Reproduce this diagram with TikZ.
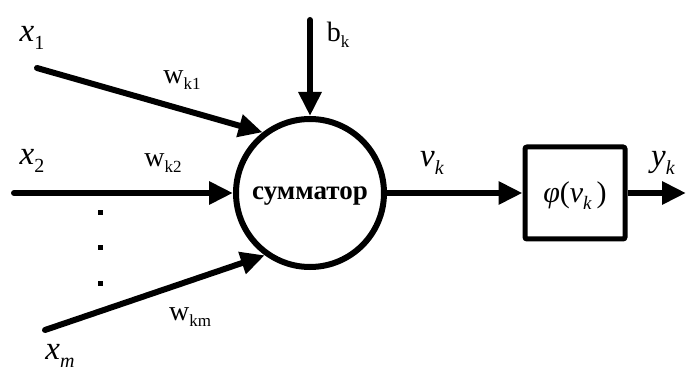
\documentclass[tikz,border=0pt]{standalone}
\usepackage{fontspec}
\setmainfont{Liberation Serif}
\usetikzlibrary{arrows.meta}
\newcommand{\lowsub}[2]{\raisebox{-0.5ex}{\fontsize{#1}{#1}\selectfont #2}}
\begin{document}
\begin{tikzpicture}[x=1pt,y=-1pt,
  conn/.style={line width=6pt,line cap=round,-{Triangle[length=24pt,width=22pt]}},
  lbl/.style={inner sep=0pt,font=\fontsize{33}{33}\selectfont},
  wlbl/.style={inner sep=0pt,font=\fontsize{28}{28}\selectfont},
  dotmark/.style={fill=black,minimum size=5pt,inner sep=0pt}]
\useasboundingbox (0,0) rectangle (686,374);
\node[circle,draw,line width=6pt,minimum size=148pt,inner sep=0pt] (s) at (310,193) {};
\node[inner sep=0pt,font=\fontsize{27}{27}\selectfont\bfseries] (st) at (310,196) {сумматор};
\node[draw,line width=5pt,rounded corners=2pt,minimum width=100pt,minimum height=92pt,inner sep=0pt] (f) at (575,193) {};
\node[inner sep=0pt,font=\fontsize{30}{30}\selectfont] (ft) at (575,196) {\itshape φ\upshape(\itshape ν\lowsub{19}{\itshape k}\upshape\,)};
\coordinate (i1) at (37,68);
\coordinate (i2) at (14,193);
\coordinate (im) at (45,330);
\coordinate (bt) at (310,20);
\coordinate (yo) at (686,193);
\draw[conn] (i1) -- (s.128);
\draw[conn] (i2) -- (s.west);
\draw[conn] (im) -- (s.234);
\draw[conn] (bt) -- (s.north);
\draw[conn] (s.east) -- (f.west);
\draw[conn,line cap=butt] (f.east) -- (yo);
\node[lbl] (lx1) at (32,38) {\itshape x\lowsub{20}{\upshape 1}};
\node[lbl] (lx2) at (32,161) {\itshape x\lowsub{20}{\upshape 2}};
\node[lbl] (lxm) at (60,356) {\itshape x\lowsub{20}{m}};
\node[wlbl] (w1) at (182,80) {w\lowsub{17}{k1}};
\node[wlbl] (w2) at (163,163) {w\lowsub{17}{k2}};
\node[wlbl] (wm) at (190,317) {w\lowsub{17}{km}};
\node[wlbl] (bk) at (338,35) {b\lowsub{17}{k}};
\node[lbl] (nu) at (432,163) {\itshape ν\lowsub{20}{k}};
\node[lbl] (yk) at (663,163) {\itshape y\lowsub{20}{k}};
\node[dotmark] (d1) at (100,213) {};
\node[dotmark] (d2) at (100,248) {};
\node[dotmark] (d3) at (100,284) {};
\end{tikzpicture}
\end{document}
